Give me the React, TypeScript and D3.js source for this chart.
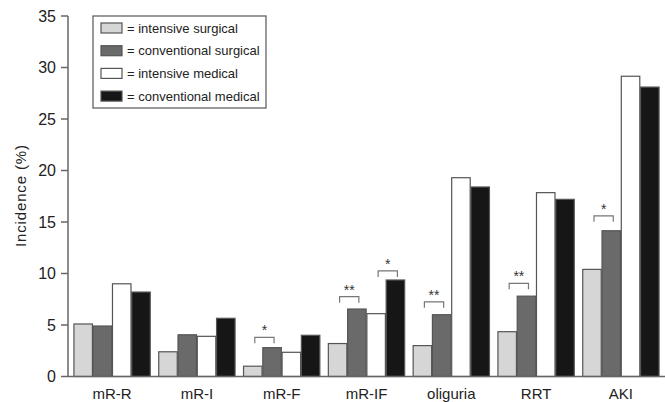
import * as d3 from "d3";

const categories = ["mR-R", "mR-I", "mR-F", "mR-IF", "oliguria", "RRT", "AKI"];
const seriesNames = ["intensive surgical", "conventional surgical", "intensive medical", "conventional medical"];
const seriesColors = ["#d6d6d6", "#6a6a6a", "#ffffff", "#161616"];

const intensiveSurgical = [5.1, 2.4, 1.0, 3.2, 3.0, 4.35, 10.4];
const conventionalSurgical = [4.9, 4.05, 2.8, 6.55, 6.0, 7.8, 14.15];
const intensiveMedical = [9.0, 3.9, 2.35, 6.1, 19.3, 17.85, 29.15];
const conventionalMedical = [8.2, 5.65, 4.0, 9.37, 18.4, 17.2, 28.1];
const series = [intensiveSurgical, conventionalSurgical, intensiveMedical, conventionalMedical];

const yTicks = [0, 5, 10, 15, 20, 25, 30, 35];

// significance brackets: category, first bar of pair, level, label
const brackets = [
  { cat: "mR-F", from: 0, level: 3.8, label: "*" },
  { cat: "mR-IF", from: 0, level: 7.75, label: "**" },
  { cat: "mR-IF", from: 2, level: 10.25, label: "*" },
  { cat: "oliguria", from: 0, level: 7.25, label: "**" },
  { cat: "RRT", from: 0, level: 9.05, label: "**" },
  { cat: "AKI", from: 0, level: 15.6, label: "*" },
];

const W = 665;
const H = 402;
const font = "'Liberation Sans', Arial, sans-serif";

export default function App() {
  const x = d3.scaleBand().domain(categories).range([68, 665]).paddingInner(0.1).paddingOuter(0.07);
  const inner = d3.scaleBand().domain(d3.range(4).map(String)).range([0, x.bandwidth()]).paddingInner(0.04);
  const y = d3.scaleLinear().domain([0, 35]).range([376.5, 16]);
  const axisColor = "#666";

  return (
    <div style={{ position: "fixed", left: 0, top: 0 }}>
      <svg width={W} height={H} style={{ display: "block", background: "#fff" }}>
        {series.map((vals, si) =>
          vals.map((v, ci) => (
            <rect
              key={`${si}-${ci}`}
              x={x(categories[ci])! + inner(String(si))!}
              y={y(v)}
              width={inner.bandwidth()}
              height={y(0) - y(v)}
              fill={seriesColors[si]}
              stroke="#555"
              strokeWidth={1.2}
            />
          ))
        )}

        {brackets.map((b, i) => {
          const x0 = x(b.cat)! + inner(String(b.from))! + inner.bandwidth() / 2 + 2;
          const x1 = x(b.cat)! + inner(String(b.from + 1))! + inner.bandwidth() / 2 + 2;
          const yy = y(b.level);
          return (
            <g key={i}>
              <path d={`M${x0},${yy + 6}V${yy}H${x1}V${yy + 6}`} fill="none" stroke="#777" strokeWidth={1.2} />
              <text x={(x0 + x1) / 2} y={yy - 2} textAnchor="middle" fontFamily={font} fontSize={14} fill="#333">
                {b.label}
              </text>
            </g>
          );
        })}

        {/* axes */}
        <line x1={68} x2={665} y1={y(0)} y2={y(0)} stroke={axisColor} strokeWidth={1.5} />
        <line x1={68} x2={68} y1={y(35)} y2={y(0)} stroke={axisColor} strokeWidth={1.5} />
        {yTicks.map((t) => (
          <g key={t}>
            <line x1={61} x2={68} y1={y(t)} y2={y(t)} stroke={axisColor} strokeWidth={1.5} />
            <text x={56} y={y(t) + 5.5} textAnchor="end" fontFamily={font} fontSize={16} fill="#222">
              {t}
            </text>
          </g>
        ))}
        {categories.map((c) => (
          <text key={c} x={x(c)! + x.bandwidth() / 2} y={399} textAnchor="middle" fontFamily={font} fontSize={15} fill="#222">
            {c}
          </text>
        ))}
        <text
          transform={`translate(26,196) rotate(-90)`}
          textAnchor="middle"
          fontFamily={font}
          fontSize={15}
          textLength={102}
          fill="#222"
        >
          Incidence (%)
        </text>

        {/* legend */}
        <rect x={93} y={16} width={173} height={92} fill="#fff" stroke="#555" strokeWidth={1.2} />
        {seriesNames.map((n, i) => {
          const cy = 28 + i * 22.7;
          return (
            <g key={n}>
              <rect x={101} y={cy - 5} width={21} height={10} fill={seriesColors[i]} stroke="#555" strokeWidth={1.2} />
              <text x={127} y={cy + 4.5} fontFamily={font} fontSize={13} fill="#222">
                = {n}
              </text>
            </g>
          );
        })}
      </svg>
    </div>
  );
}
